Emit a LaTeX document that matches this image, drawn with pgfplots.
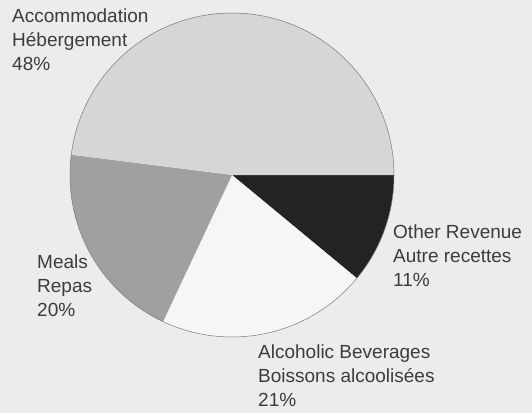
\documentclass[border=0pt]{standalone}
\usepackage{pgfplots}
\pgfplotsset{compat=1.18}
\usepackage{fontspec}
\setmainfont{Liberation Sans}

\definecolor{bg}{HTML}{ECECEC}
\definecolor{accom}{HTML}{D6D6D6}
\definecolor{meals}{HTML}{A0A0A0}
\definecolor{alco}{HTML}{F6F6F6}
\definecolor{other}{HTML}{232323}
\definecolor{txt}{HTML}{3C3C3C}
\definecolor{rim}{HTML}{7A7A7A}

% shares in percent, clockwise from 3 o'clock
\def\pOther{11}
\def\pAlco{21}
\def\pMeals{20}
\def\pAccom{48}

\begin{document}
\begin{tikzpicture}
\begin{axis}[
    scale only axis,
    width=532pt, height=413pt,
    xmin=0, xmax=532, ymin=0, ymax=413,
    hide axis, clip=false,
]
\fill[bg] (axis cs:0,0) rectangle (axis cs:532,413);

\pgfmathsetmacro\aA{-3.6*\pOther}
\pgfmathsetmacro\aB{\aA-3.6*\pAlco}
\pgfmathsetmacro\aC{\aB-3.6*\pMeals}

\fill[other] (axis cs:232,238) -- ++(0:162pt) arc[start angle=0, end angle=\aA, radius=162pt] -- cycle;
\fill[alco] (axis cs:232,238) -- ++(\aA:162pt) arc[start angle=\aA, end angle=\aB, radius=162pt] -- cycle;
\fill[meals] (axis cs:232,238) -- ++(\aB:162pt) arc[start angle=\aB, end angle=\aC, radius=162pt] -- cycle;
\fill[accom] (axis cs:232,238) -- ++(\aC:162pt) arc[start angle=\aC, end angle=-360, radius=162pt] -- cycle;
\draw[rim, line width=0.5pt] (axis cs:232,238) circle[radius=162pt];

\tikzset{lbl/.style={anchor=north west, inner sep=0pt, align=left, text=txt,
    font=\fontsize{19}{24}\selectfont}}
\node[lbl] at (axis cs:12,404) {Accommodation\\Hébergement\\\pAccom\%};
\node[lbl] at (axis cs:37,158) {Meals\\Repas\\\pMeals\%};
\node[lbl] at (axis cs:393,188) {Other Revenue\\Autre recettes\\\pOther\%};
\node[lbl] at (axis cs:258,68) {Alcoholic Beverages\\Boissons alcoolisées\\\pAlco\%};
\end{axis}
\end{tikzpicture}
\end{document}
